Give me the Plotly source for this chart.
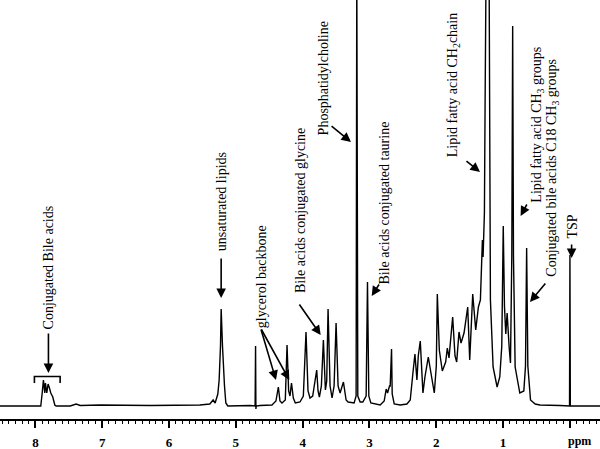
import plotly.graph_objects as go

# 1H NMR spectrum (chemical shift in ppm, intensity in a.u.)
ppm = [8.53, 8.08, 7.92, 7.90, 7.88, 7.86, 7.85, 7.83, 7.81, 7.79, 7.77, 7.74, 7.71, 7.69,
       7.48, 7.39, 7.33, 7.03, 6.28, 5.54, 5.39, 5.34, 5.31, 5.27, 5.25, 5.23, 5.22, 5.20,
       5.19, 5.17, 5.15, 5.12, 4.79, 4.712, 4.705, 4.700, 4.695, 4.64, 4.46, 4.40, 4.364,
       4.34, 4.31, 4.26, 4.234, 4.21, 4.19, 4.167, 4.14, 4.11, 4.04, 3.99, 3.95, 3.92,
       3.89, 3.85, 3.79, 3.77, 3.75, 3.72, 3.69, 3.66, 3.64, 3.62, 3.59, 3.56, 3.53, 3.50,
       3.47, 3.44, 3.39, 3.35, 3.32, 3.23, 3.20, 3.19, 3.175, 3.14, 3.10, 3.05, 3.03, 3.01,
       2.98, 2.84, 2.78, 2.75, 2.73, 2.70, 2.69, 2.67, 2.66, 2.63, 2.54, 2.44, 2.39, 2.35,
       2.32, 2.29, 2.27, 2.24, 2.22, 2.20, 2.17, 2.12, 2.08, 2.03, 2.00, 1.985, 1.955, 1.91,
       1.86, 1.835, 1.81, 1.755, 1.72, 1.695, 1.66, 1.63, 1.585, 1.53, 1.50, 1.455, 1.41,
       1.37, 1.34, 1.31, 1.30, 1.28, 1.27, 1.255, 1.21, 1.205, 1.19, 1.15, 1.09, 1.05, 1.02,
       0.998, 0.98, 0.96, 0.94, 0.91, 0.89, 0.87, 0.857, 0.845, 0.82, 0.75, 0.69, 0.665,
       0.648, 0.63, 0.59, 0.52, 0.45, 0.15, 0.006, 0.0, -0.006, -0.45]
intensity = [0, 0.5, 0, 12, 26, 13, 23, 13, 22, 18, 13, 9, 1, 0,
             0, 2, 0.5, 1, 0.5, 1, 2, 6, 3, 12, 26, 60, 97, 60,
             40, 20, 3, 0, 0.5, 0, 60, -3, 0, 0.5, 1, 5, 19,
             5, 3, 6, 61, 15, 10, 23, 8, 3, 4, 10, 74, 15,
             8, 10, 36, 15, 9, 20, 66, 16, 25, 97, 20, 8, 20, 83,
             20, 13, 24, 6, 4, 3, 10, 440, 10, 4, 4, 10, 124, 10,
             3, 1, 5, 17, 13, 20, 20, 57, 12, 2, 1, 2, 6, 33,
             52, 26, 50, 65, 30, 13, 29, 49, 33, 13, 40, 112, 56, 35,
             44, 58, 48, 89, 50, 44, 74, 63, 73, 99, 46, 112, 76,
             99, 106, 166, 149, 193, 300, 440, 440, 250, 106, 39, 19, 29, 60,
             180, 100, 72, 93, 59, 43, 150, 380, 150, 39, 13, 15, 40,
             158, 40, 6, 2, 1, 0.5, 0, 151, 0, 0]

tick_vals = [0, 1, 2, 3, 4, 5, 6, 7, 8]
tick_text = ["", "1", "2", "3", "4", "5", "6", "7", "8"]

# label text, label centre (ppm, intensity), arrows [(tail ppm, tail int, tip ppm, tip int)]
labels = [
    ("Conjugated Bile acids", 7.805, 139, [(7.805, 74, 7.805, 33)]),
    ("unsaturated lipids", 5.22, 204, [(5.22, 149, 5.22, 108)]),
    ("glycerol backbone", 4.62, 129, [(4.63, 78, 4.40, 26), (4.63, 78, 4.20, 26)]),
    ("Bile acids conjugated glycine", 4.04, 195, [(4.065, 103, 3.73, 71)]),
    ("Phosphatidylcholine", 3.69, 328, [(3.59, 281, 3.277, 264)]),
    ("Bile acids conjugated taurine", 2.79, 203, [(2.843, 123, 2.967, 110)]),
    ("Lipid fatty acid CH<sub>2</sub>chain", 1.746, 321, [(1.571, 246, 1.346, 234)]),
    ("Lipid fatty acid CH<sub>3</sub> groups", 0.498, 281, [(0.633, 203, 0.738, 190)]),
    ("Conjugated bile acids C18 CH<sub>3</sub> groups", 0.274, 238, [(0.349, 124, 0.598, 104)]),
    ("TSP", -0.025, 179, [(-0.025, 163, -0.025, 148)]),
]

fig = go.Figure()
fig.add_trace(go.Scatter(x=ppm, y=intensity, mode="lines",
                         line=dict(color="black", width=1.4), showlegend=False,
                         hoverinfo="skip"))

serif = "Liberation Serif, Times New Roman, serif"
for text, lx, ly, arrows in labels:
    fig.add_annotation(x=lx, y=ly, text=text, showarrow=False, textangle=-90,
                       xanchor="center", yanchor="middle",
                       font=dict(family=serif, size=14, color="black"))
    for tx, ty, hx, hy in arrows:
        fig.add_annotation(x=hx, y=hy, ax=tx, ay=ty, axref="x", ayref="y", text="",
                           showarrow=True, arrowhead=2, arrowsize=1.2, arrowwidth=1.6,
                           arrowcolor="black", standoff=0)

# bracket over the bile acid multiplet
fig.add_shape(type="path", path="M 8.015,23 L 8.015,29.5 L 7.63,29.5 L 7.63,23",
              line=dict(color="black", width=1.6))

fig.add_annotation(x=-0.15, y=0, xref="x", yref="paper", yanchor="top", yshift=-13,
                   text="<b>ppm</b>", showarrow=False,
                   font=dict(family=serif, size=12, color="black"))

fig.update_xaxes(range=[8.53, -0.45], tickmode="array", tickvals=tick_vals,
                 ticktext=tick_text, ticks="outside", ticklen=7, tickwidth=1.5,
                 tickcolor="black", showline=True, linecolor="black", linewidth=1.5,
                 showgrid=False, zeroline=False, automargin=False, ticklabelstandoff=4,
                 tickfont=dict(family=serif, size=13, color="black", weight="bold"),
                 minor=dict(tick0=0, dtick=0.1, ticks="outside", ticklen=3.5,
                            tickwidth=1.2, tickcolor="black", showgrid=False))
fig.update_yaxes(range=[-13, 406], visible=False, showgrid=False, zeroline=False)

fig.update_layout(width=600, height=449, margin=dict(l=0, r=0, t=0, b=30),
                  paper_bgcolor="white", plot_bgcolor="white")

# the page's default body margin would push the figure 8px down and right
fig.write_html("out.html", config={"displayModeBar": False},
               post_script="document.body.style.margin='0';")
